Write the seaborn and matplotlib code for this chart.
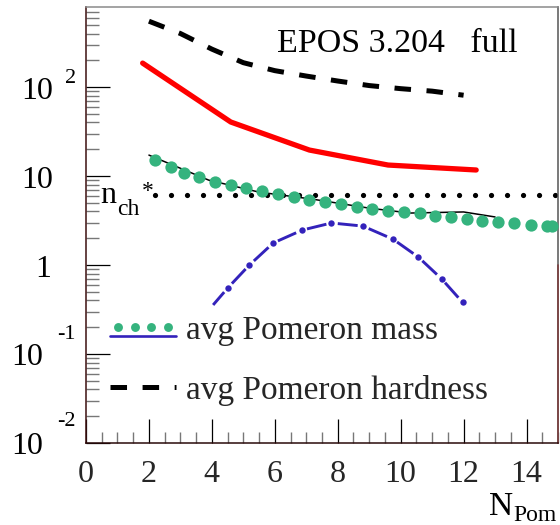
import numpy as np
import matplotlib
matplotlib.use("Agg")
import matplotlib.pyplot as plt
import matplotlib.transforms as mtransforms
from matplotlib.lines import Line2D
from matplotlib.legend_handler import HandlerLine2D, HandlerTuple
from matplotlib.ticker import LogLocator, MultipleLocator, NullFormatter
import seaborn as sns

# ---- data -------------------------------------------------------------
# avg Pomeron hardness (black dashed)
hard_x = [2, 3, 4, 5, 6, 7, 8, 9, 10, 11, 12]
hard_y = [550, 400, 267, 188, 153, 133, 117, 104, 96, 90, 81]

# red curve
red_x = [1.8, 4.6, 7.1, 9.6, 12.4]
red_y = [186, 40.5, 19.6, 13.3, 11.7]

# avg Pomeron mass (green dots)
mass_x = [2.2, 2.7, 3.1, 3.6, 4.1, 4.6, 5.1, 5.6, 6.1, 6.6, 7.1, 7.6, 8.1,
          8.6, 9.1, 9.6, 10.1, 10.6, 11.1, 11.6, 12.1, 12.6, 13.1, 13.6,
          14.15, 14.65, 14.8]
mass_y = [15.1, 12.7, 10.8, 9.75, 8.57, 7.9, 7.3, 6.8, 6.3, 5.8, 5.37, 5.1,
          4.85, 4.5, 4.26, 4.05, 3.95, 3.84, 3.55, 3.47, 3.29, 3.12, 3.04,
          2.95, 2.8, 2.74, 2.74]

# thin black reference curve
ref_x = [2.0, 3.9, 5.5, 7.2, 9.0, 10.3, 12.0, 13.0]
ref_y = [17.2, 9.0, 6.6, 5.5, 4.36, 3.84, 3.95, 3.47]

# n_ch* level (black dotted)
nch_x = [2.2, 15.0]
nch_y = [6.1, 6.1]

# blue dash-dotted curve
blue_x = [4.04, 4.5, 5.18, 5.95, 6.87, 7.8, 8.8, 9.76, 10.56, 11.3, 11.97]
blue_y = [0.356, 0.55, 0.99, 1.77, 2.47, 2.97, 2.74, 1.95, 1.23, 0.70, 0.38]

x_ticks = [0, 2, 4, 6, 8, 10, 12, 14]
X_MIN, X_MAX = 0, 15
Y_MIN, Y_MAX = 1e-2, 10 ** 2.9

legend_labels = ["avg Pomeron mass", "avg Pomeron hardness"]
title_text = "EPOS 3.204   full"

GREEN = "#35b37e"
BLUE = "#3322bb"
RED = "#ff0000"

# ---- style ------------------------------------------------------------
sns.set_theme(style="white")
plt.rcParams["font.family"] = ["Liberation Serif", "DejaVu Serif"]
plt.rcParams["lines.scale_dashes"] = False

W, H = 560, 525
fig = plt.figure(figsize=(W / 100, H / 100), dpi=100)
L, R, T, B = 86, 558, 7, 443
ax = fig.add_axes([L / W, 1 - B / H, (R - L) / W, (B - T) / H])
ax.set_yscale("log")
ax.set_xlim(X_MIN, X_MAX)
ax.set_ylim(Y_MIN, Y_MAX)

# ---- series -----------------------------------------------------------
sns.lineplot(x=hard_x, y=hard_y, ax=ax, color="black", linewidth=3.6,
             linestyle=(0, (11.9, 11.2)), estimator=None, sort=False)
sns.lineplot(x=red_x, y=red_y, ax=ax, color=RED, linewidth=3.8,
             estimator=None, sort=False)
sns.lineplot(x=nch_x, y=nch_y, ax=ax, color="black", linewidth=3.8,
             linestyle=(0, (0.001, 11.52)), dash_capstyle="round",
             estimator=None, sort=False)
sns.lineplot(x=ref_x, y=ref_y, ax=ax, color="black", linewidth=1.1,
             estimator=None, sort=False)
sns.scatterplot(x=mass_x, y=mass_y, ax=ax, color=GREEN, s=78, linewidth=0,
                zorder=3)
sns.lineplot(x=blue_x, y=blue_y, ax=ax, color=BLUE, linewidth=2.1,
             linestyle=(2.2, (14.4, 8.3)), marker="o", markersize=4.6,
             markevery=list(range(1, len(blue_x))), mew=0, mec=BLUE,
             estimator=None, sort=False)

# ---- axes frame & ticks ----------------------------------------------
for side, col in [("left", "#3c0f0f"), ("bottom", "#2a0a0a"),
                  ("top", "#8a8a8a"), ("right", "#555555")]:
    ax.spines[side].set_color(col)
    ax.spines[side].set_linewidth(1.1)
ax.axvline(X_MAX, ymin=0, ymax=(np.log10(1.0) - np.log10(Y_MIN)) /
           (np.log10(Y_MAX) - np.log10(Y_MIN)), color=RED, lw=1.2,
           clip_on=False)

ax.xaxis.set_major_locator(plt.FixedLocator(x_ticks))
ax.xaxis.set_minor_locator(MultipleLocator(0.5))
ax.yaxis.set_major_locator(LogLocator(base=10, numticks=10))
ax.yaxis.set_minor_locator(LogLocator(base=10, subs=np.arange(2, 10), numticks=20))
ax.yaxis.set_major_formatter(NullFormatter())
ax.yaxis.set_minor_formatter(NullFormatter())
ax.tick_params(axis="both", which="both", direction="in", top=False,
               right=False, left=True, bottom=True)
ax.tick_params(axis="y", which="major", length=17.3, width=0.9, color="black")
ax.tick_params(axis="y", which="minor", length=9.4, width=1.0, color="#777777")
ax.tick_params(axis="x", which="major", length=17.3, width=0.9, color="black",
               labelsize=23, pad=12.5)
ax.tick_params(axis="x", which="minor", length=7.9, width=1.0, color="#777777")
ax.set_xticklabels([str(v) for v in x_ticks])
ax.set_xlabel("")
ax.set_ylabel("")

# ROOT-style power-of-ten labels on the y axis
ytrans = ax.get_yaxis_transform()


def ylabel_text(s, yval, right_px, dy_px, size):
    tr = mtransforms.offset_copy(ytrans, fig=fig, x=0, y=dy_px, units="dots")
    ax.text((right_px - L) / (R - L), yval, s, transform=tr, ha="right",
            va="baseline", fontsize=size, color="black", clip_on=False)


ylabel_text("10", 100, 53, -11.8, 23)
ylabel_text("2", 100, 76, 4.5, 16)
ylabel_text("10", 10, 53, -11.8, 23)
ylabel_text("1", 1, 51, -11.8, 23)
ylabel_text("10", 0.1, 43, -10.8, 23)
ylabel_text("-1", 0.1, 76, 15.5, 16)
ylabel_text("10", 0.01, 43, -10.8, 23)
ylabel_text("-2", 0.01, 76, 17.5, 16)


# ---- texts --------------------------------------------------------------
def ftext(px, py, s, size):
    fig.text(px / W, 1 - py / H, s, fontsize=size, ha="left", va="baseline",
             color="black")


ftext(277, 52, title_text, 24.5)
ftext(100, 203, "n", 23)
ftext(117, 215, "ch", 17)
ftext(142, 197, "*", 17)
ftext(489, 515, "N", 24)
ftext(513, 521, "Pom", 17)


# ---- legend ---------------------------------------------------------------
class ShiftedLine(HandlerLine2D):
    def __init__(self, shift, **kw):
        super().__init__(**kw)
        self.shift = shift

    def create_artists(self, legend, orig_handle, xdescent, ydescent, width,
                       height, fontsize, trans):
        arts = super().create_artists(legend, orig_handle, xdescent, ydescent,
                                      width, height, fontsize, trans)
        for a in arts:
            a.set_ydata(np.asarray(a.get_ydata()) + self.shift)
        return arts


h_mass_line = Line2D([], [], color=BLUE, lw=1.9)
h_mass_dots = Line2D([], [], color=GREEN, marker="o", ms=6.4, ls="none", mew=0)
h_hard = Line2D([], [], color="black", lw=3.6, ls=(0, (11.9, 11.2)))

leg = ax.legend(
    handles=[(h_mass_line, h_mass_dots), h_hard],
    labels=legend_labels,
    handler_map={
        h_mass_line: ShiftedLine(-6.0, numpoints=1),
        h_mass_dots: ShiftedLine(0.5, numpoints=4, marker_pad=0.25),
        tuple: HandlerTuple(ndivide=1, pad=0),
    },
    loc="upper left", bbox_to_anchor=((110 - L) / (R - L), (B - 316) / (B - T)),
    frameon=False, fontsize=24, handlelength=1.98, handletextpad=0.3,
    labelspacing=0.85, borderpad=0, borderaxespad=0,
)

fig.savefig("out.png", dpi=100)
